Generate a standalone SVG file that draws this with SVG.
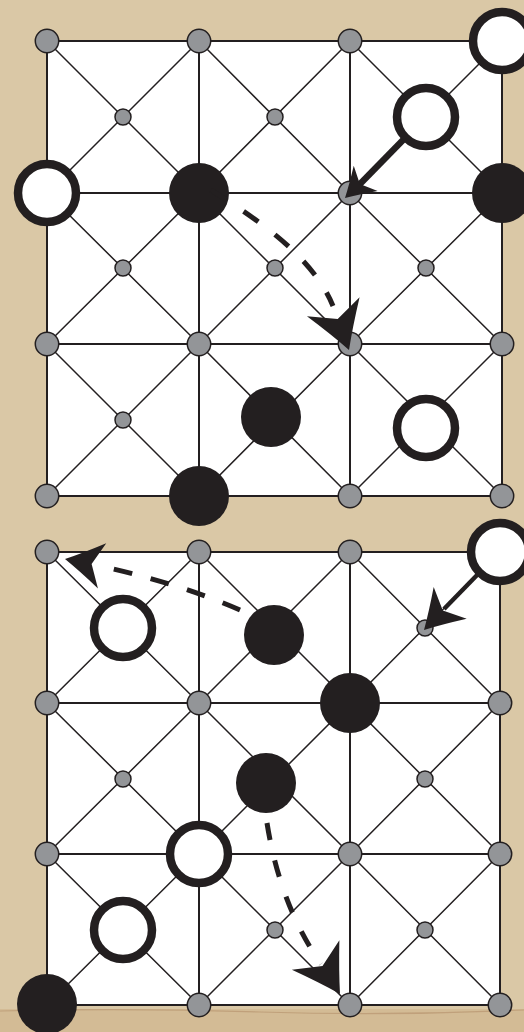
<svg xmlns="http://www.w3.org/2000/svg" width="524" height="1032" viewBox="0 0 524 1032">
<style>
.board{fill:#ffffff;stroke:#231f20;stroke-width:2}
.grid{fill:none;stroke:#231f20;stroke-width:2}
.diag{fill:none;stroke:#231f20;stroke-width:1.5}
.big{fill:#939598;stroke:#231f20;stroke-width:1.5}
.small{fill:#939598;stroke:#231f20;stroke-width:1.5}
.black{fill:#231f20}
.white{fill:#ffffff;stroke:#231f20;stroke-width:8.5}
.dash{fill:none;stroke:#231f20;stroke-width:5}
.solid{fill:none;stroke:#231f20}
.head{fill:#231f20}
</style>
<defs>
<path id="ah" d="M0,0 Q-20,-11 -46,-28 L-33,0 L-46,28 Q-20,11 0,0 Z"/>
</defs>
<rect x="0" y="0" width="524" height="1032" fill="#dac8a6"/>
<rect x="0" y="1009" width="524" height="23" fill="#d3bb95"/>
<path d="M0,1011 Q130,1008 260,1012 T524,1010" fill="none" stroke="#a9805c" stroke-width="1.2" opacity="0.45"/>

<g id="board1">
<rect class="board" x="47" y="41" width="455" height="455"/>
<path class="grid" d="M199,41V496M350,41V496M47,193H502M47,344H502"/>
<path class="diag" d="M47,41L199,193M199,41L47,193M199,41L350,193M350,41L199,193M350,41L502,193M502,41L350,193M47,193L199,344M199,193L47,344M199,193L350,344M350,193L199,344M350,193L502,344M502,193L350,344M47,344L199,496M199,344L47,496M199,344L350,496M350,344L199,496M350,344L502,496M502,344L350,496"/>
<g id="b1-a1"><circle class="big" cx="47" cy="41" r="11.7"/></g>
<g id="b1-b1"><circle class="big" cx="199" cy="41" r="11.7"/></g>
<g id="b1-c1"><circle class="big" cx="350" cy="41" r="11.7"/></g>
<g id="b1-d1"><circle class="big" cx="502" cy="41" r="11.7"/></g>
<g id="b1-a2"><circle class="big" cx="47" cy="193" r="11.7"/></g>
<g id="b1-b2"><circle class="big" cx="199" cy="193" r="11.7"/></g>
<g id="b1-c2"><circle class="big" cx="350" cy="193" r="11.7"/></g>
<g id="b1-d2"><circle class="big" cx="502" cy="193" r="11.7"/></g>
<g id="b1-a3"><circle class="big" cx="47" cy="344" r="11.7"/></g>
<g id="b1-b3"><circle class="big" cx="199" cy="344" r="11.7"/></g>
<g id="b1-c3"><circle class="big" cx="350" cy="344" r="11.7"/></g>
<g id="b1-d3"><circle class="big" cx="502" cy="344" r="11.7"/></g>
<g id="b1-a4"><circle class="big" cx="47" cy="496" r="11.7"/></g>
<g id="b1-b4"><circle class="big" cx="199" cy="496" r="11.7"/></g>
<g id="b1-c4"><circle class="big" cx="350" cy="496" r="11.7"/></g>
<g id="b1-d4"><circle class="big" cx="502" cy="496" r="11.7"/></g>
<g id="b1-m11"><circle class="small" cx="123" cy="117" r="8"/></g>
<g id="b1-m21"><circle class="small" cx="275" cy="117" r="8"/></g>
<g id="b1-m31"><circle class="small" cx="426" cy="117" r="8"/></g>
<g id="b1-m12"><circle class="small" cx="123" cy="268" r="8"/></g>
<g id="b1-m22"><circle class="small" cx="275" cy="268" r="8"/></g>
<g id="b1-m32"><circle class="small" cx="426" cy="268" r="8"/></g>
<g id="b1-m13"><circle class="small" cx="123" cy="420" r="8"/></g>
<g id="b1-m23"><circle class="small" cx="275" cy="420" r="8"/></g>
<g id="b1-m33"><circle class="small" cx="426" cy="420" r="8"/></g>
<g id="b1-p-white-1"><circle class="white" cx="502" cy="41" r="29"/></g>
<g id="b1-p-white-2"><circle class="white" cx="426" cy="117" r="29"/></g>
<g id="b1-p-white-3"><circle class="white" cx="47" cy="193" r="29"/></g>
<g id="b1-p-white-4"><circle class="white" cx="426" cy="428" r="29"/></g>
<g id="b1-p-black-1"><circle class="black" cx="199" cy="193" r="30"/></g>
<g id="b1-p-black-2"><circle class="black" cx="502" cy="193" r="30"/></g>
<g id="b1-p-black-3"><circle class="black" cx="271" cy="417" r="30"/></g>
<g id="b1-p-black-4"><circle class="black" cx="199" cy="496" r="30"/></g>
</g>

<g id="board2">
<rect class="board" x="47" y="552" width="453" height="453"/>
<path class="grid" d="M199,552V1005M350,552V1005M47,703H500M47,854H500"/>
<path class="diag" d="M47,552L199,703M199,552L47,703M199,552L350,703M350,552L199,703M350,552L500,703M500,552L350,703M47,703L199,854M199,703L47,854M199,703L350,854M350,703L199,854M350,703L500,854M500,703L350,854M47,854L199,1005M199,854L47,1005M199,854L350,1005M350,854L199,1005M350,854L500,1005M500,854L350,1005"/>
<g id="b2-a1"><circle class="big" cx="47" cy="552" r="11.7"/></g>
<g id="b2-b1"><circle class="big" cx="199" cy="552" r="11.7"/></g>
<g id="b2-c1"><circle class="big" cx="350" cy="552" r="11.7"/></g>
<g id="b2-d1"><circle class="big" cx="500" cy="552" r="11.7"/></g>
<g id="b2-a2"><circle class="big" cx="47" cy="703" r="11.7"/></g>
<g id="b2-b2"><circle class="big" cx="199" cy="703" r="11.7"/></g>
<g id="b2-c2"><circle class="big" cx="350" cy="703" r="11.7"/></g>
<g id="b2-d2"><circle class="big" cx="500" cy="703" r="11.7"/></g>
<g id="b2-a3"><circle class="big" cx="47" cy="854" r="11.7"/></g>
<g id="b2-b3"><circle class="big" cx="199" cy="854" r="11.7"/></g>
<g id="b2-c3"><circle class="big" cx="350" cy="854" r="11.7"/></g>
<g id="b2-d3"><circle class="big" cx="500" cy="854" r="11.7"/></g>
<g id="b2-a4"><circle class="big" cx="47" cy="1005" r="11.7"/></g>
<g id="b2-b4"><circle class="big" cx="199" cy="1005" r="11.7"/></g>
<g id="b2-c4"><circle class="big" cx="350" cy="1005" r="11.7"/></g>
<g id="b2-d4"><circle class="big" cx="500" cy="1005" r="11.7"/></g>
<g id="b2-m11"><circle class="small" cx="123" cy="628" r="8"/></g>
<g id="b2-m21"><circle class="small" cx="275" cy="628" r="8"/></g>
<g id="b2-m31"><circle class="small" cx="425" cy="628" r="8"/></g>
<g id="b2-m12"><circle class="small" cx="123" cy="779" r="8"/></g>
<g id="b2-m22"><circle class="small" cx="275" cy="779" r="8"/></g>
<g id="b2-m32"><circle class="small" cx="425" cy="779" r="8"/></g>
<g id="b2-m13"><circle class="small" cx="123" cy="930" r="8"/></g>
<g id="b2-m23"><circle class="small" cx="275" cy="930" r="8"/></g>
<g id="b2-m33"><circle class="small" cx="425" cy="930" r="8"/></g>
<g id="b2-p-white-1"><circle class="white" cx="500" cy="552" r="29"/></g>
<g id="b2-p-white-2"><circle class="white" cx="123" cy="628" r="29"/></g>
<g id="b2-p-white-3"><circle class="white" cx="199" cy="854" r="29"/></g>
<g id="b2-p-white-4"><circle class="white" cx="123" cy="930" r="29"/></g>
<g id="b2-p-black-1"><circle class="black" cx="274" cy="635" r="30"/></g>
<g id="b2-p-black-2"><circle class="black" cx="350" cy="703" r="30"/></g>
<g id="b2-p-black-3"><circle class="black" cx="266" cy="783" r="30"/></g>
<g id="b2-p-black-4"><circle class="black" cx="47" cy="1004" r="30"/></g>
</g>

<g id="connectors">
<path class="solid" stroke-width="6.5" d="M405,138 L359,185"/>
<use href="#ah" class="head" transform="translate(345,198) rotate(136.5) scale(0.62)"/>
<path class="dash" stroke-width="6" stroke-dasharray="18 21" d="M211,190 C255,218 312,255 333,306"/>
<use href="#ah" class="head" transform="translate(349,350) rotate(70)"/>
<path class="solid" stroke-width="4.5" d="M481,571 L444,609"/>
<use href="#ah" class="head" transform="translate(424,630) rotate(134) scale(0.82)"/>
<path class="dash" stroke-width="4.5" stroke-dasharray="19 19" d="M240,610 Q178,583 100,566"/>
<use href="#ah" class="head" transform="translate(65,559) rotate(190.4) scale(0.82)"/>
<path class="dash" stroke-width="4.5" stroke-dasharray="17 21" d="M267,823 Q280,905 321,964"/>
<use href="#ah" class="head" transform="translate(340,994) rotate(58)"/>
</g>
</svg>
